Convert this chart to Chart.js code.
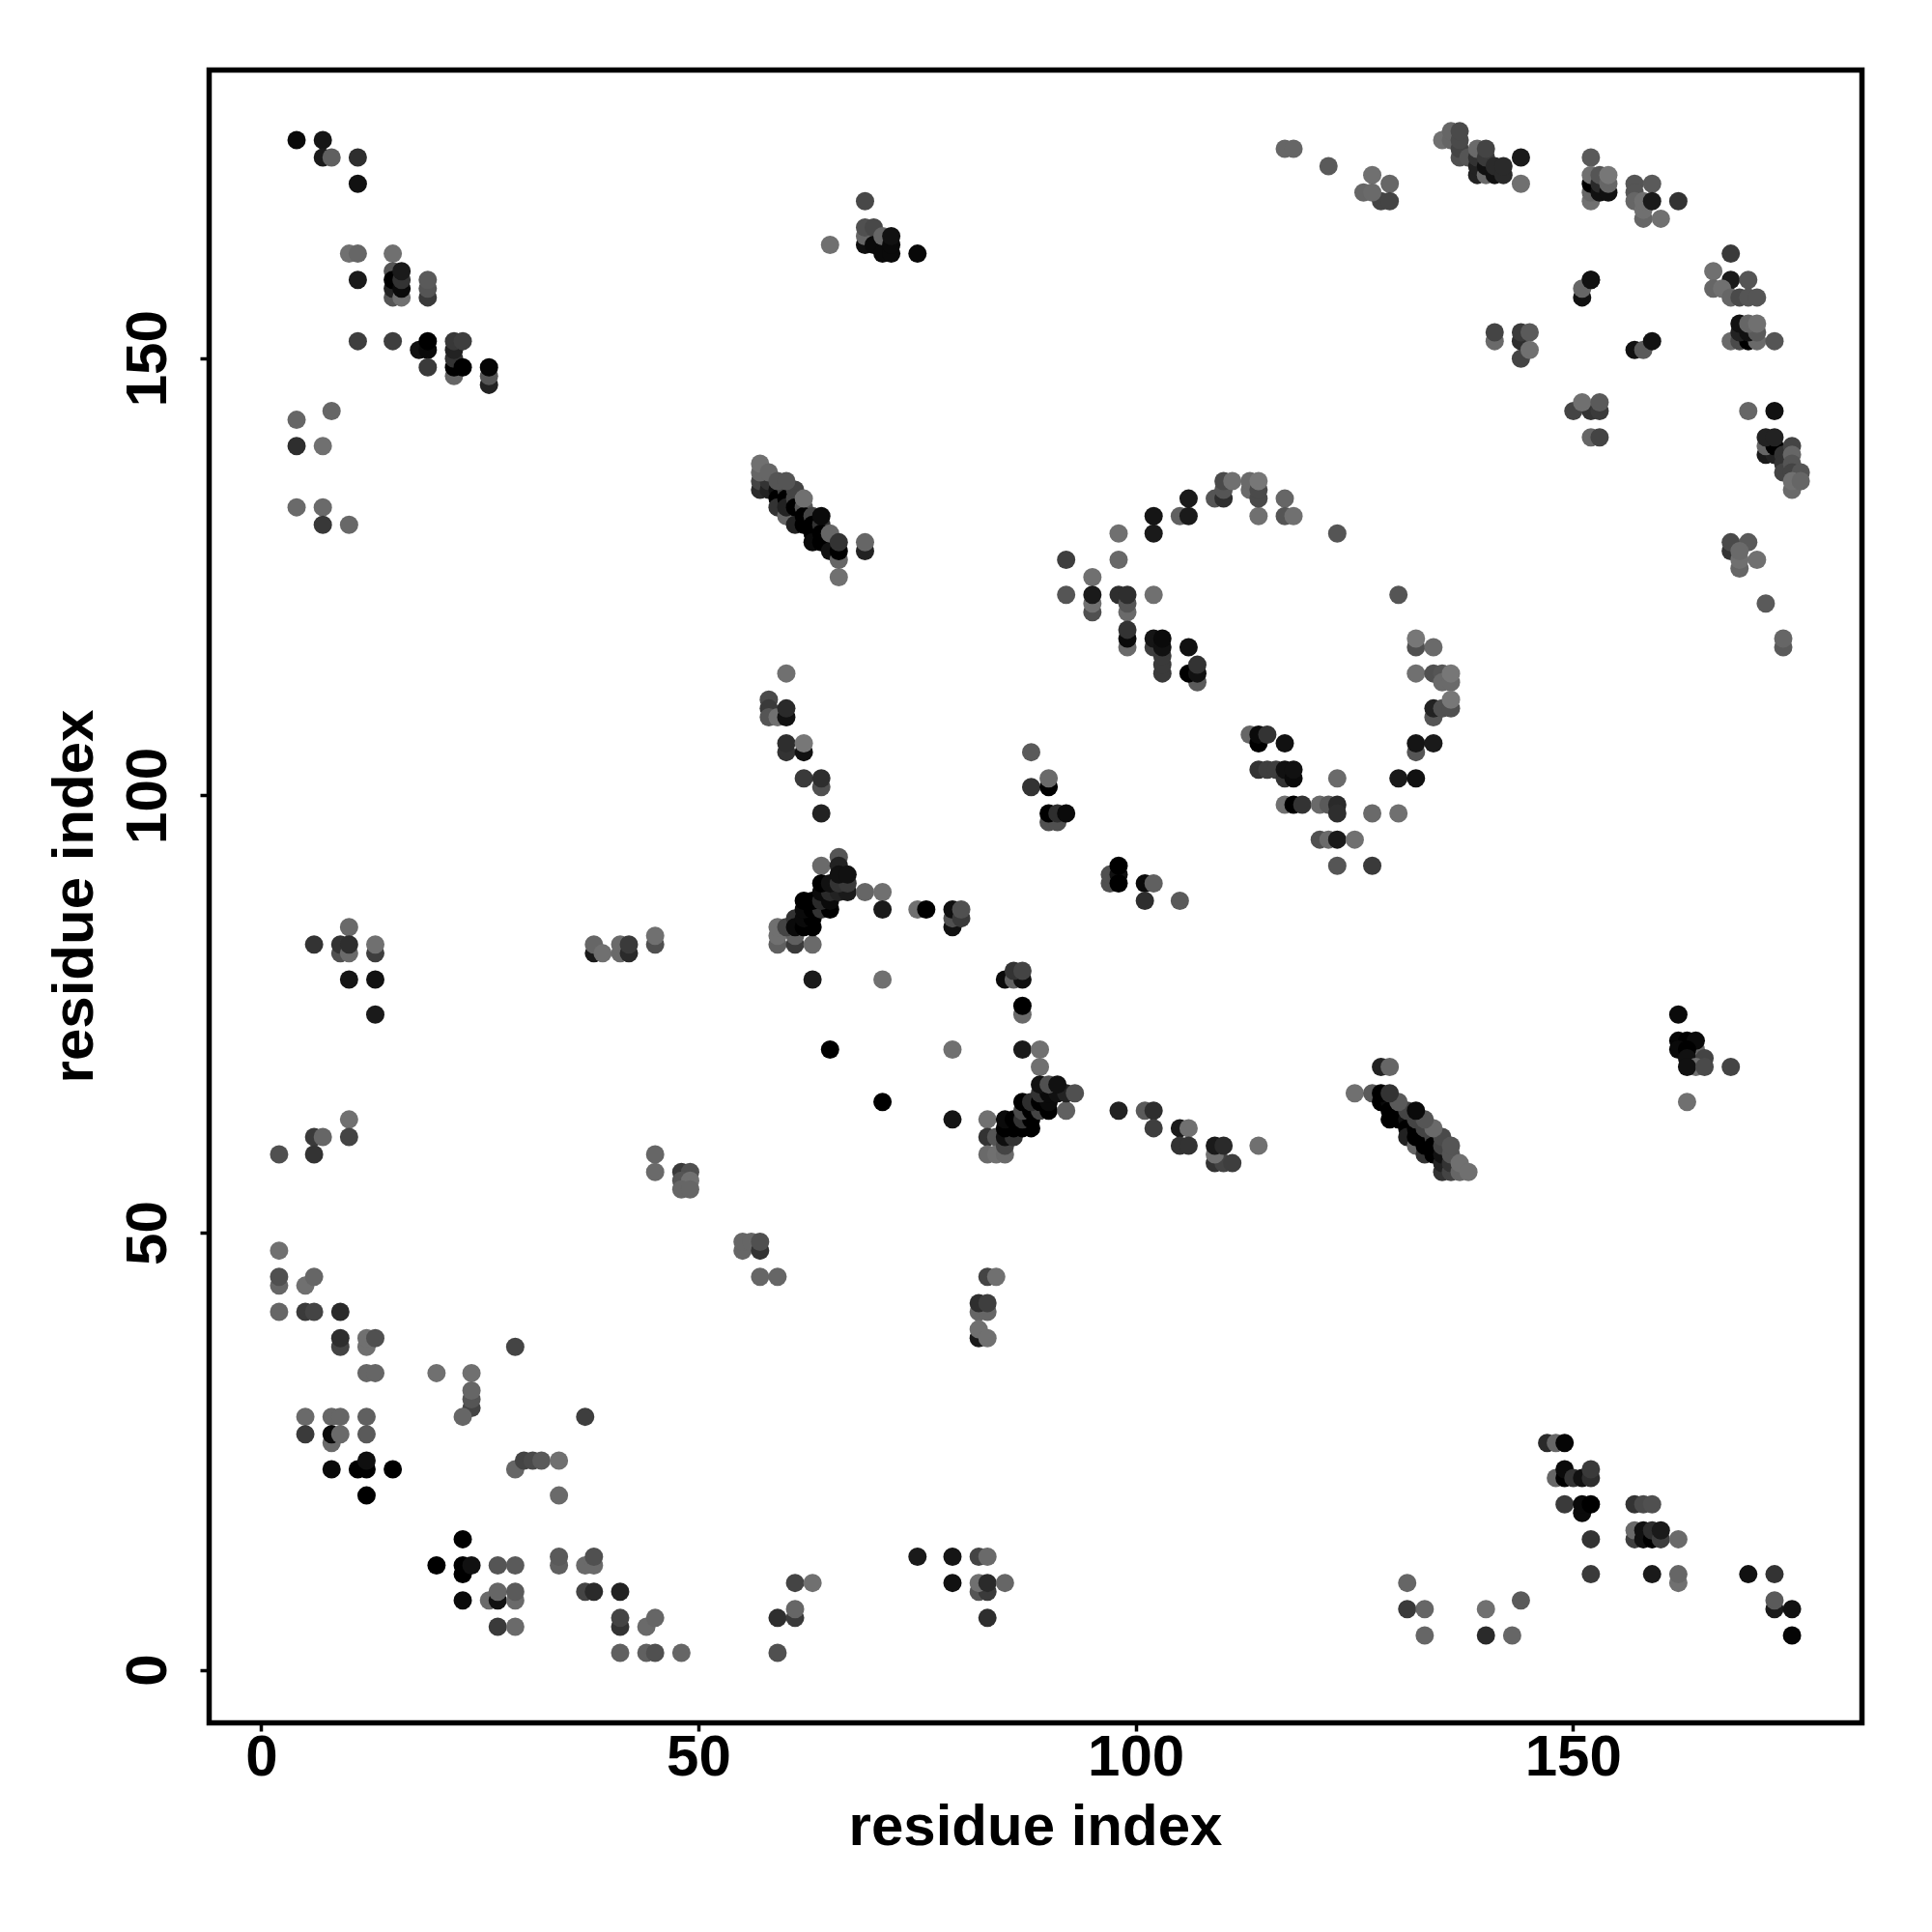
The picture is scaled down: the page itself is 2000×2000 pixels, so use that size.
<!DOCTYPE html>
<html>
<head>
<meta charset="utf-8">
<style>html,body{margin:0;padding:0;background:#fff}#wrap{width:2000px;height:2000px}</style>
<script src="https://cdn.jsdelivr.net/npm/chart.js@4"></script>
</head>
<body>
<div id="wrap"><canvas id="c" width="2000" height="2000"></canvas></div>
<script>
const axisTitle = "residue index";
const tickValues = [0, 50, 100, 150];
// each entry: residue x, residue y, grey level
const contactsNW = [[4,175,10],[7,175,21],[7,173,26],[8,173,96],[11,173,46],[11,170,17],[10,162,112],[11,162,102],[15,162,112],[11,159,26],[15,160,85],[15,157,85],[15,158,34],[15,159,0],[16,157,112],[16,158,10],[16,159,51],[16,160,26],[19,157,58],[19,158,85],[19,159,90],[11,152,62],[15,152,62],[18,151,17],[19,151,10],[19,152,0],[19,149,58],[22,148,102],[22,149,0],[22,150,51],[22,151,34],[22,152,56],[23,152,62],[23,149,0],[26,147,34],[26,148,85],[26,149,5],[8,144,102],[4,143,102],[4,140,46],[7,140,112],[4,133,106],[7,133,106],[7,131,56],[10,131,104]];
const contactsN = [[65,163,112],[69,168,72],[69,163,15],[69,164,102],[69,165,80],[70,165,72],[70,163,10],[71,162,10],[71,164,102],[72,162,10],[72,163,10],[72,164,17],[75,162,8],[117,174,102],[118,174,102],[109,134,85],[110,134,46],[110,135,85],[110,136,74],[111,136,112],[113,135,106],[113,136,106],[114,132,112],[114,134,74],[114,135,74],[114,136,119],[117,134,102],[117,132,85],[118,132,112],[106,134,26],[105,132,96],[106,132,26],[102,132,21],[102,130,26],[98,130,112],[92,127,62],[98,127,104],[95,125,112],[92,123,85],[95,121,80],[95,122,112],[95,123,26],[98,123,46],[99,121,106],[99,122,85],[99,123,46],[102,123,112]];
const strandA = [[57,135,42],[57,136,68],[58,135,34],[58,136,51],[59,135,17],[59,134,0],[59,133,51],[60,135,68],[60,134,0],[60,132,102],[60,133,34],[61,135,68],[61,134,68],[61,133,0],[61,131,34],[62,133,85],[62,132,0],[62,131,0],[63,132,68],[63,131,0],[63,130,0],[63,129,10],[64,131,51],[64,130,0],[64,129,0],[65,129,0],[65,128,17],[66,125,112],[66,127,102],[69,128,34],[69,129,102],[57,137,102],[57,138,112],[58,137,102],[59,136,85],[60,136,85],[62,134,112],[64,132,10],[65,130,102],[66,128,0],[66,129,51]];
const contactsNE = [[122,172,90],[127,171,112],[129,170,102],[128,168,68],[129,168,68],[126,169,102],[127,169,106],[135,175,112],[136,175,102],[136,176,102],[137,173,80],[137,174,68],[137,175,74],[137,176,74],[138,173,85],[139,171,34],[139,172,34],[139,173,51],[139,174,106],[140,171,106],[140,172,17],[140,173,58],[140,174,68],[141,171,17],[141,172,42],[142,171,42],[142,172,42],[144,173,26],[144,170,112],[152,173,90],[152,168,112],[152,169,102],[152,170,0],[152,171,112],[153,169,17],[153,170,42],[153,171,85],[154,169,17],[154,170,102],[154,171,119],[157,170,85],[157,169,85],[157,168,102],[158,166,102],[158,167,112],[158,168,112],[160,166,112],[159,170,90],[159,168,26],[162,168,51],[168,162,58],[166,160,112],[168,159,26],[170,159,85],[166,158,102],[167,158,112],[168,157,102],[169,157,74],[170,157,85],[171,157,85],[168,152,106],[169,152,74],[170,152,0],[171,152,106],[173,152,85],[169,153,34],[170,153,17],[171,153,90],[169,154,17],[170,154,102],[171,154,112],[141,152,106],[141,153,68],[144,150,68],[144,152,46],[144,153,58],[145,153,90],[145,151,112],[152,159,17],[151,157,17],[151,158,102],[152,159,17],[157,151,17],[158,151,90],[159,152,17],[150,144,68],[152,144,51],[153,144,58],[151,145,112],[153,145,90],[152,141,102],[153,141,68],[170,144,102],[173,144,17],[172,139,26],[173,139,34],[172,140,102],[173,140,0],[172,141,34],[173,141,34],[174,139,51],[174,138,51],[174,137,68],[175,140,68],[175,139,102],[175,138,85],[175,137,68],[176,137,85],[175,135,106],[175,136,112],[176,136,102],[123,130,85],[130,123,85],[168,128,51],[168,129,74],[170,129,90],[169,126,102],[169,127,112],[169,128,106],[171,127,112],[172,122,90]];
const contactsW = [[6,83,51],[9,82,80],[9,83,51],[10,85,106],[10,82,106],[10,83,46],[13,82,62],[13,83,112],[10,79,21],[13,79,17],[13,75,26],[38,82,26],[38,83,102],[39,82,112],[41,82,106],[41,83,106],[42,82,42],[42,83,58],[45,83,80],[45,84,112],[10,63,112],[6,61,58],[7,61,102],[10,61,68],[2,59,80],[6,59,51],[45,59,102],[45,57,106],[48,57,58],[49,57,80],[48,56,85],[49,56,112],[48,55,102],[49,55,102]];
const contactsCentre = [[60,114,112],[58,111,74],[58,110,58],[58,109,85],[59,109,112],[60,109,17],[60,110,42],[60,105,51],[60,106,46],[62,105,17],[62,106,119],[62,102,58],[64,101,80],[64,102,46],[64,98,34],[66,93,85],[64,92,106],[66,92,34],[59,83,96],[59,84,112],[59,85,112],[61,83,58],[61,84,96],[63,83,106],[60,85,68],[61,86,51],[61,85,10],[62,85,0],[63,85,0],[62,86,10],[63,86,0],[62,87,10],[63,87,0],[64,87,51],[65,87,0],[62,88,0],[63,88,0],[64,88,42],[65,88,10],[64,89,10],[65,89,42],[66,89,34],[67,89,26],[64,90,0],[65,90,17],[66,90,51],[67,90,58],[66,91,17],[67,91,17],[69,89,102],[71,89,112],[71,87,26],[75,87,112],[76,87,0],[79,85,17],[79,86,80],[79,87,15],[80,86,58],[80,87,80],[63,79,26],[71,79,112],[85,79,10],[86,79,96],[87,79,15],[86,80,51],[87,80,68],[87,75,106],[87,76,0],[65,71,0],[79,71,112],[87,71,26],[89,71,112],[89,69,112],[71,65,0],[79,63,21],[83,63,112],[83,61,51],[84,61,85],[83,59,106],[84,59,112],[85,59,106],[85,60,68],[85,61,15],[86,61,51],[85,62,0],[86,62,0],[87,62,0],[88,62,0],[85,63,10],[86,63,0],[87,63,51],[88,63,0],[87,64,74],[88,64,0],[89,64,68],[90,64,0],[92,64,96],[87,65,0],[88,65,46],[89,65,0],[90,65,10],[89,66,51],[90,66,10],[91,66,17],[92,66,34],[93,66,80],[89,67,17],[90,67,80],[91,67,17],[98,64,34],[101,64,90],[102,64,46],[102,62,62],[105,62,26],[106,62,112],[105,60,51],[106,60,51],[109,58,51],[110,58,68],[111,58,62],[109,59,112],[109,60,26],[110,60,42],[114,60,112],[99,117,106],[99,118,10],[99,119,51],[102,117,62],[102,118,21],[103,114,58],[103,115,58],[103,116,58],[103,117,17],[103,118,10],[106,117,17],[107,113,90],[106,114,0],[107,114,17],[107,115,51],[113,107,102],[114,106,0],[114,107,10],[115,107,51],[117,106,17],[114,103,51],[115,103,62],[116,103,62],[117,102,51],[117,103,17],[118,102,10],[118,103,17],[117,99,112],[118,99,0],[119,99,51],[88,105,90],[88,101,51],[90,101,0],[90,102,106],[90,97,80],[91,97,80],[90,98,0],[91,98,46],[92,98,10],[97,90,80],[97,91,80],[98,91,17],[98,92,0],[98,90,0],[101,90,10],[102,90,96],[101,88,46],[105,88,90]];
const contactsE = [[132,117,80],[132,118,119],[134,117,106],[132,114,112],[134,114,80],[135,114,85],[135,113,106],[136,113,106],[136,114,119],[134,109,85],[134,110,34],[135,110,80],[136,110,80],[136,111,119],[132,105,85],[132,106,21],[134,106,26],[130,102,26],[132,102,17],[123,102,106],[121,99,106],[122,99,90],[123,99,42],[123,98,46],[127,98,106],[130,98,112],[121,95,80],[122,95,106],[123,95,26],[125,95,112],[123,92,85],[127,92,58],[174,117,90],[174,118,102],[162,75,10],[162,72,5],[163,72,0],[164,71,102],[164,72,10],[162,71,10],[163,71,0],[163,70,17],[165,70,68],[164,69,112],[163,69,17],[165,69,74],[168,69,68],[163,65,112]];
const strandB = [[128,69,34],[129,69,102],[125,66,112],[127,66,90],[128,65,0],[129,65,10],[129,64,0],[129,63,0],[130,64,0],[130,63,0],[131,63,17],[131,62,0],[131,61,34],[132,60,102],[132,62,0],[132,61,0],[133,59,51],[133,60,0],[133,61,0],[134,61,68],[134,60,0],[134,59,0],[135,57,51],[135,58,34],[135,59,17],[135,60,68],[136,57,68],[136,58,51],[136,59,85],[132,63,68],[133,62,68],[135,61,74],[136,60,85],[137,57,102],[137,58,112],[138,57,112],[134,62,106],[133,63,85],[131,64,68],[132,64,10],[130,65,90],[128,66,0],[129,66,51]];
const contactsSW = [[2,48,112],[2,44,102],[2,45,80],[5,44,112],[6,45,102],[2,41,102],[5,41,58],[6,41,68],[9,41,42],[9,37,68],[9,38,46],[12,37,112],[12,38,112],[13,38,80],[12,34,102],[13,34,102],[20,34,112],[24,34,112],[24,30,68],[24,31,85],[24,32,102],[23,29,102],[29,37,68],[37,29,62],[5,29,106],[8,29,102],[9,29,102],[12,29,96],[5,27,58],[8,26,106],[8,27,10],[9,27,106],[12,27,90],[8,23,10],[11,23,0],[12,23,0],[12,24,15],[15,23,0],[12,20,0],[29,23,102],[30,24,68],[31,24,74],[32,24,90],[34,24,112],[34,20,106],[23,15,0],[20,12,0],[23,11,0],[23,12,0],[24,12,17],[27,12,85],[29,12,90],[23,8,10],[26,8,106],[27,8,17],[27,9,102],[29,8,106],[29,9,90],[27,5,58],[29,5,106],[34,12,96],[34,13,90],[37,12,106],[38,12,106],[38,13,80],[37,9,68],[38,9,42],[41,9,34],[41,5,51],[41,6,68],[44,5,106],[45,6,102],[41,2,96],[44,2,96],[45,2,80],[48,2,102]];
const contactsS = [[55,48,102],[55,49,102],[56,49,102],[57,48,51],[57,49,80],[57,45,102],[59,45,102],[83,45,68],[84,45,112],[82,41,102],[83,41,102],[82,42,46],[83,42,62],[82,38,26],[82,39,112],[83,38,112],[61,10,68],[63,10,112],[59,6,46],[61,6,58],[61,7,102],[59,2,80],[75,13,26],[79,13,21],[82,13,68],[83,13,106],[79,10,17],[82,9,85],[83,9,58],[82,10,112],[83,10,42],[85,10,102],[83,6,46]];
const contactsSE = [[131,10,102],[131,7,58],[133,7,102],[133,4,102],[140,7,112],[140,4,42],[143,4,102],[144,8,90],[147,26,42],[148,26,102],[149,26,5],[148,22,102],[149,22,0],[149,23,10],[150,22,51],[151,22,17],[152,22,46],[152,23,58],[149,19,58],[151,18,10],[151,19,10],[152,19,0],[152,15,51],[152,11,58],[157,19,51],[158,19,74],[159,19,80],[157,15,62],[157,16,106],[158,15,17],[158,16,17],[159,15,0],[159,16,46],[160,15,62],[160,16,26],[162,15,106],[159,11,26],[162,10,112],[162,11,102],[170,11,17],[173,11,51],[173,7,26],[173,8,90],[175,7,17],[175,4,5]];

const allContacts = [contactsNW, contactsN, strandA, contactsNE, contactsW, contactsCentre, contactsE, strandB, contactsSW, contactsS, contactsSE].flat();

const frame = {
  id: 'frame',
  afterDatasetsDraw(chart) {
    const a = chart.chartArea, c = chart.ctx;
    c.save();
    c.strokeStyle = '#000';
    c.lineWidth = 5.5;
    c.lineJoin = 'miter';
    c.strokeRect(a.left, a.top, a.right - a.left, a.bottom - a.top);
    c.restore();
  }
};

const font = { family: '"Liberation Sans", Arial, sans-serif', weight: 'bold', size: 60 };
const axisCommon = {
  type: 'linear',
  min: -6,
  max: 183,
  afterBuildTicks(s) { s.ticks = tickValues.map(v => ({ value: v })); },
  grid: { drawOnChartArea: false, drawTicks: true, tickLength: 9, tickWidth: 3.5, tickColor: '#000' },
  border: { display: false }
};

new Chart(document.getElementById('c'), {
  type: 'scatter',
  data: {
    datasets: [{
      label: axisTitle,
      data: allContacts.map(p => ({ x: p[0], y: p[1] })),
      pointRadius: 9.5,
      pointBorderWidth: 0,
      pointBackgroundColor: allContacts.map(p => `rgb(${p[2]},${p[2]},${p[2]})`)
    }]
  },
  options: {
    responsive: false,
    animation: false,
    layout: { padding: { left: 0, right: 72.5, top: 72.5, bottom: 0 } },
    plugins: { legend: { display: false }, tooltip: { enabled: false } },
    scales: {
      x: {
        ...axisCommon,
        position: 'bottom',
        afterFit(s) { s.height = 216.5; },
        ticks: { color: '#000', font, padding: -7, maxRotation: 0, autoSkip: false },
        title: { display: true, text: axisTitle, color: '#000', font, padding: { top: 0, bottom: 71 } }
      },
      y: {
        ...axisCommon,
        position: 'left',
        afterFit(s) { s.width = 216.5; },
        ticks: { color: '#000', font, padding: 2, minRotation: 90, maxRotation: 90, crossAlign: 'center', autoSkip: false },
        title: { display: true, text: axisTitle, color: '#000', font, padding: { top: 43, bottom: 0 } }
      }
    }
  },
  plugins: [frame]
});
</script>
</body>
</html>
